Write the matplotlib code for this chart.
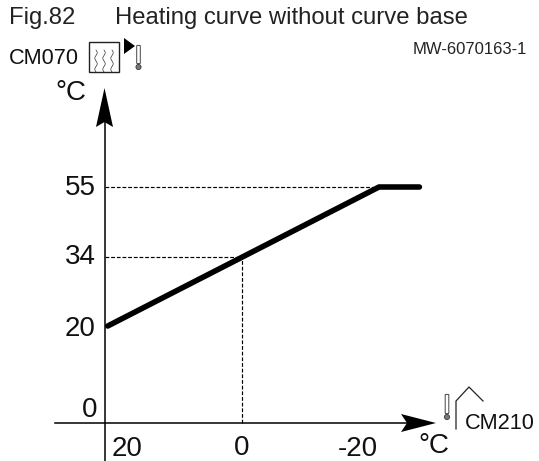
import numpy as np
import matplotlib
matplotlib.use('Agg')
import matplotlib.pyplot as plt
from matplotlib.patches import Polygon, Rectangle, FancyBboxPatch, Circle

plt.rcParams['font.family'] = ['Liberation Sans', 'DejaVu Sans']

# curve values
outside_temp = [19.6, -20, -25.9]
flow_temp = [20, 55, 55]
guide_x = [0]
guide_y = [34]
x_tick_labels = ['20', '0', '-20']
y_tick_labels = ['55', '34', '20', '0']
x_tick_values = [20, 0, -20]
y_tick_values = [55, 34, 20, 0]

title_left = 'Fig.82'
title_right = 'Heating curve without curve base'
ref_code = 'MW-6070163-1'

# y axis of the drawing is not to scale, so map through the known ticks
y_anchor = [-7.84, 0, 20, 34, 55, 110.3]
h_anchor = [0, 38, 135, 203.5, 274, 461]


def y_fwd(v):
    return np.interp(v, y_anchor, h_anchor)


def y_inv(v):
    return np.interp(v, h_anchor, y_anchor)


fig = plt.figure(figsize=(5.39, 4.61), dpi=100)
ax = fig.add_axes([0, 0, 1, 1])
ax.set_yscale('function', functions=(y_fwd, y_inv))
ax.set_xlim(20 + 105 / 6.85, 20 - 434 / 6.85)
ax.set_ylim(-7.84, 110.3)
ax.axis('off')

# overlay in pixels for the sketch parts
ov = fig.add_axes([0, 0, 1, 1])
ov.set_xlim(0, 539)
ov.set_ylim(461, 0)
ov.axis('off')
ov.patch.set_alpha(0)

dash = (0, (3.2, 1.6))
ax.plot([20, -20], [55, 55], color='black', lw=0.85, ls=dash)
ax.plot([20, guide_x[0]], [guide_y[0], guide_y[0]], color='black', lw=0.85, ls=dash)
ax.plot([guide_x[0], guide_x[0]], [0, guide_y[0]], color='black', lw=0.85, ls=dash)

# curve
ax.plot(outside_temp, flow_temp, color='black', lw=4.0, solid_capstyle='round', solid_joinstyle='miter')

# axes with arrows
ov.plot([104.5, 104.5], [461, 110], color='black', lw=1.1)
ov.plot([55, 410], [423, 423], color='black', lw=1.1)
ov.add_patch(Polygon([[104.5, 88], [96, 127], [104.5, 122], [113, 127]], closed=True, color='black', lw=0))
ov.add_patch(Polygon([[436, 423], [401, 414], [407, 423], [401, 432]], closed=True, color='black', lw=0))

# tick labels, pushed off the axes by hand like in the drawing
y_offsets = [(-9, -1), (-9, 0), (-9, -3), (-8, 13)]
x_offsets = [(22, -26), (0, -25), (-21, -26)]
for v, s, off in zip(y_tick_values, y_tick_labels, y_offsets):
    ax.annotate(s, (20, v), xytext=off, textcoords='offset pixels', fontsize=20, ha='right', va='center', color='#111111')
for v, s, off in zip(x_tick_values, x_tick_labels, x_offsets):
    ax.annotate(s, (v, 0), xytext=off, textcoords='offset pixels', fontsize=20, ha='center', va='center', color='#111111')

# units
ov.text(71, 93, '°C', fontsize=20, ha='center', va='center', color='#111111')
ov.text(434, 446, '°C', fontsize=20, ha='center', va='center', color='#111111')

# header
ov.text(9, 18, title_left, fontsize=17.2, ha='left', va='center', color='#222222')
ov.text(115, 18, title_right, fontsize=17.2, ha='left', va='center', color='#222222')
ov.text(9, 59, 'CM070', fontsize=15.7, ha='left', va='center', color='#111111')
ov.text(527, 50, ref_code, fontsize=12, ha='right', va='center', color='#222222')
ov.text(465, 423, 'CM210', fontsize=15.7, ha='left', va='center', color='#111111')

# radiator icon
ov.add_patch(Rectangle((88.5, 42), 30, 30, fill=False, ec='#222222', lw=1.0))
t = np.linspace(0, 1, 40)
for x0 in (96, 104, 112):
    ov.plot(x0 + 1.2 * np.sin(t * 4 * np.pi), 50 + t * 22, color='#333333', lw=0.5)
ov.add_patch(Polygon([[124, 38], [135, 46], [124, 54]], closed=True, color='black', lw=0))


def thermo(x, y_top, y_bot):
    ov.add_patch(FancyBboxPatch((x - 1.2, y_top + 1), 2.4, y_bot - y_top - 5,
                                boxstyle='round,pad=0.6', fc='white', ec='#444444', lw=0.7))
    ov.add_patch(Circle((x, y_bot), 2.6, fc='#777777', ec='#222222', lw=0.5))


thermo(138.5, 45, 67)
thermo(447, 394, 417)

# house icon
ov.plot([456, 456, 469, 483], [429, 401, 387, 401], color='#222222', lw=0.9)

fig.savefig('out.png', dpi=100)
